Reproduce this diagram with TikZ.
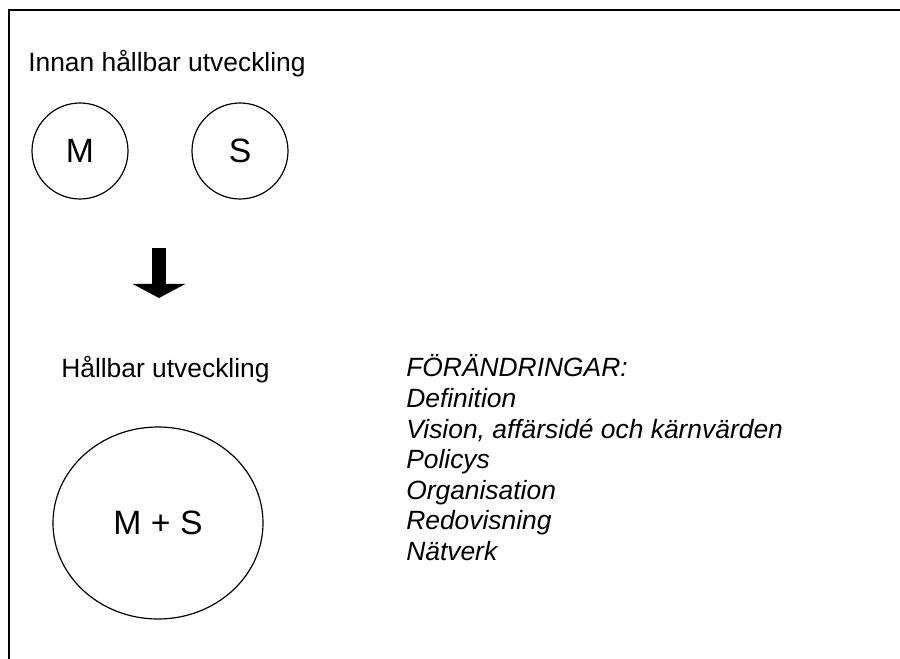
\documentclass[tikz,border=0pt]{standalone}
\usepackage{fontspec}
\setmainfont{Liberation Sans}
\usetikzlibrary{shapes.geometric,arrows.meta}
\tikzset{
  label text/.style={font=\fontsize{19.8}{23}\selectfont, inner sep=0pt, anchor=base west},
  list text/.style={label text, font=\fontsize{19.8}{23}\selectfont\itshape},
  part/.style={draw, circle, line width=0.9pt, minimum size=72pt, inner sep=0pt,
    font=\fontsize{25.3}{30}\selectfont},
  whole/.style={draw, ellipse, line width=0.9pt, minimum width=157.5pt,
    minimum height=144pt, inner sep=0pt, font=\fontsize{25.3}{30}\selectfont},
}
\begin{document}
\begin{tikzpicture}[x=0.75pt,y=-0.75pt]
      \useasboundingbox (0,0) rectangle (900,659);
      % frame
      \draw[line width=1.5pt] (9,662) -- (9,10) -- (903,10);
      % before
      \node[label text] (before) at (28,72) {Innan hållbar utveckling};
      \node[part] (M) at (80,151) {M};
      \node[part] (S) at (240,151) {S};
      % change arrow
      \coordinate (arrtop) at (159,248);
      \coordinate (arrtip) at (159,298);
      \draw[line width=10.5pt, -{Triangle[width=39pt,length=10.5pt]}] (arrtop) -- (arrtip);
      % after
      \node[label text] (after) at (61,378) {Hållbar utveckling};
      \node[whole] (MS) at (158,523) {M + S};
      \foreach \txt [count=\i from 0] in {FÖRÄNDRINGAR:, Definition,
          {Vision, affärsidé och kärnvärden}, Policys, Organisation,
          Redovisning, Nätverk}
        \node[list text] (item\i) at (406,{377+30.5*\i}) {\txt};
    \end{tikzpicture}
\end{document}
